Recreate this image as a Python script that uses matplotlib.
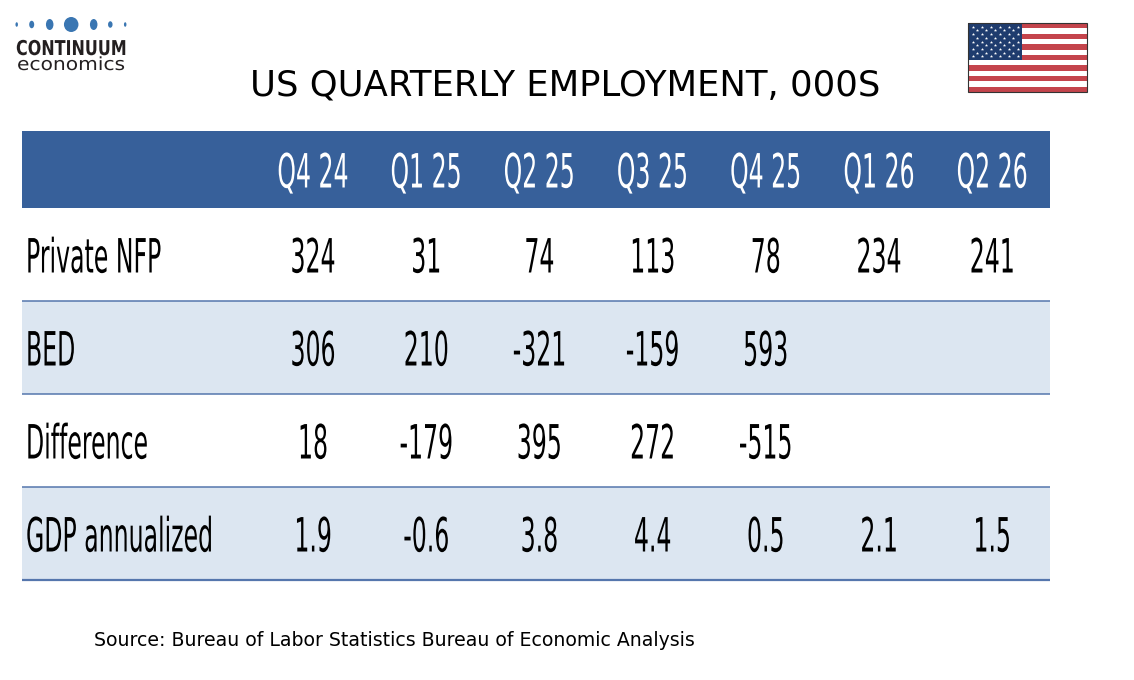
import matplotlib
matplotlib.use('Agg')
import matplotlib.pyplot as plt
from matplotlib.patches import Rectangle, Ellipse
from matplotlib.patheffects import AbstractPathEffect
from matplotlib.transforms import Affine2D

plt.rcParams['font.family'] = ['DejaVu Sans']

# table contents
quarters = ['Q4 24', 'Q1 25', 'Q2 25', 'Q3 25', 'Q4 25', 'Q1 26', 'Q2 26']
row_labels = ['Private NFP', 'BED', 'Difference', 'GDP annualized']
private_nfp = [324, 31, 74, 113, 78, 234, 241]
bed = [306, 210, -321, -159, 593, None, None]
difference = [18, -179, 395, 272, -515, None, None]
gdp_annualized = [1.9, -0.6, 3.8, 4.4, 0.5, 2.1, 1.5]

title = 'US QUARTERLY EMPLOYMENT, 000S'
source = 'Source: Bureau of Labor Statistics Bureau of Economic Analysis'

HEADER_BLUE = '#37609a'
LIGHT_ROW = '#dce6f1'
RULE = '#5576ad'


class Squash(AbstractPathEffect):
    # scale the glyph outline about the text origin (baseline start),
    # used to get the tall narrow table font look
    def __init__(self, sx=1.0, sy=1.0):
        super().__init__()
        self.sx = sx
        self.sy = sy

    def draw_path(self, renderer, gc, tpath, affine, rgbFace=None):
        bx, by = affine.transform((0, 0))
        t = affine + Affine2D().translate(-bx, -by).scale(self.sx, self.sy).translate(bx, by)
        renderer.draw_path(gc, tpath, t, rgbFace)


def fmt(v):
    if v is None:
        return ''
    if isinstance(v, float):
        return f'{v:.1f}'
    return str(v)


rows = [private_nfp, bed, difference, gdp_annualized]

fig = plt.figure(figsize=(11.34, 6.8), dpi=100)
ax = fig.add_axes([0, 0, 1, 1])
ax.set_xlim(0, 1134)
ax.set_ylim(680, 0)
ax.axis('off')

# --- table geometry (pixels)
left, right = 22, 1050
head_top, head_bot = 131, 208
row_h = 93.0
col0, col_step = 313, 113.2
tall = [Squash(1.0, 2.0)]
tfs = 17

ax.add_patch(Rectangle((left, head_top), right - left, head_bot - head_top,
                       color=HEADER_BLUE, lw=0))
for i, q in enumerate(quarters):
    ax.text(col0 + col_step * i, (head_top + head_bot) / 2 + 18, q,
            ha='center', va='baseline', fontsize=tfs, color='white',
            path_effects=tall)

for r, (lab, vals) in enumerate(zip(row_labels, rows)):
    top = head_bot + row_h * r
    if r % 2 == 1:
        ax.add_patch(Rectangle((left, top), right - left, row_h, color=LIGHT_ROW, lw=0))
    base = top + row_h / 2 + 18
    ax.text(26, base, lab, ha='left', va='baseline', fontsize=tfs,
            color='black', path_effects=tall)
    for i, v in enumerate(vals):
        ax.text(col0 + col_step * i, base, fmt(v), ha='center', va='baseline',
                fontsize=tfs, color='black', path_effects=tall)
    lw = 1.6 if r == len(rows) - 1 else 1.1
    ax.plot([left, right], [top + row_h, top + row_h], color=RULE, lw=lw,
            solid_capstyle='butt')

# --- title and source
ax.text(565, 95, title, ha='center', va='baseline', fontsize=25.45, color='black')
ax.text(94, 646, source, ha='left', va='baseline', fontsize=13.6, color='black')

# --- logo
dot_x = [16.7, 31.7, 49.7, 71.2, 93.7, 110.3, 125.2]
dot_w = [2.5, 5, 7.5, 14.5, 7.5, 4.5, 2.5]
dot_h = [4.5, 7.5, 11, 15, 11, 6.5, 4.5]
for x, w, h in zip(dot_x, dot_w, dot_h):
    ax.add_patch(Ellipse((x, 24.5), w, h, color='#3a76b2', lw=0))
ax.text(16, 55, 'CONTINUUM', ha='left', va='baseline', fontsize=11.5,
        fontweight='bold', color='#231f20', path_effects=[Squash(1.0, 1.28)])
ax.text(17, 70, 'economics', ha='left', va='baseline', fontsize=13,
        color='#231f20', path_effects=[Squash(1.12, 1.0)])

# --- flag
fx, fy, fw, fh = 968, 23, 119, 69
sh = fh / 13
for i in range(13):
    ax.add_patch(Rectangle((fx, fy + i * sh), fw, sh,
                           color='#c4444c' if i % 2 == 0 else 'white', lw=0))
cw, ch = 54, 7 * sh
ax.add_patch(Rectangle((fx, fy), cw, ch, color='#1f3c6e', lw=0))
sx, sy = [], []
for r in range(9):
    n = 6 if r % 2 == 0 else 5
    for c in range(n):
        sx.append(fx + cw / 12 * (2 * c + 1 + r % 2))
        sy.append(fy + ch / 10 * (r + 1))
ax.scatter(sx, sy, marker='*', s=6, color='white', lw=0, zorder=3)
ax.add_patch(Rectangle((fx, fy), fw, fh, fill=False, edgecolor='#333333', lw=0.8, zorder=4))

fig.savefig('out.png', dpi=100)
